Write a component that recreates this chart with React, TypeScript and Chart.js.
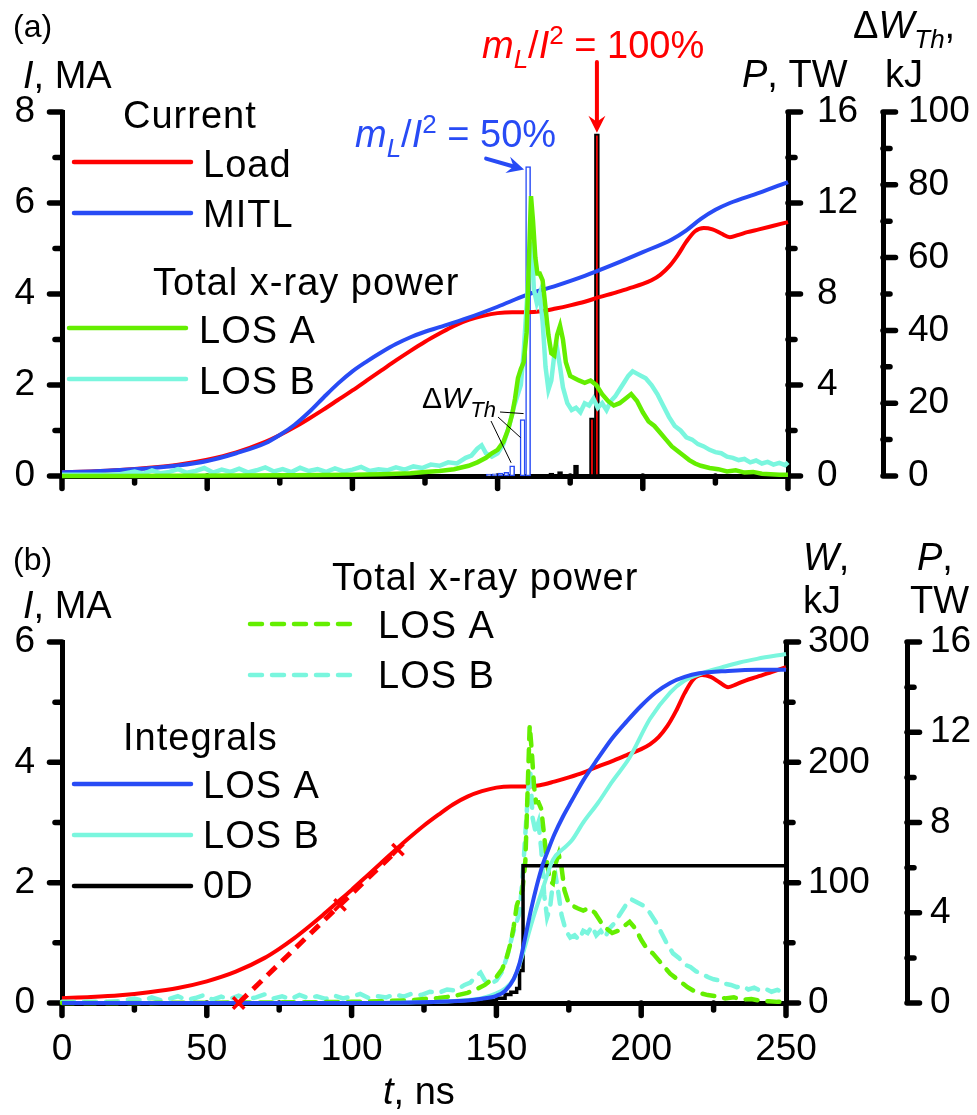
import React, { useEffect, useRef } from 'react';
import { Chart, registerables } from 'chart.js';
Chart.register(...registerables);

const FONT = '"Liberation Sans", Arial, Helvetica, sans-serif';
const RED = 'rgb(255,0,0)';
const BLUE = 'rgb(40,75,245)';
const GREEN = 'rgb(100,238,0)';
const CYAN = 'rgb(122,246,222)';

// ---- Current (MA) ----
const loadT = [0, 10, 20, 30, 40, 50, 60, 70, 75, 80, 85, 90, 95, 100, 105, 110, 115, 120, 125, 130, 135, 140, 145, 150, 155, 160, 165, 170, 175, 180, 185, 190, 195, 200, 203, 206, 209, 212, 215, 218, 221, 224, 227, 230, 233, 236, 240, 245, 250];
const loadI = [0.08, 0.1, 0.13, 0.18, 0.25, 0.36, 0.52, 0.75, 0.9, 1.07, 1.26, 1.46, 1.67, 1.88, 2.1, 2.32, 2.54, 2.75, 2.95, 3.13, 3.3, 3.43, 3.52, 3.58, 3.6, 3.6, 3.62, 3.68, 3.75, 3.83, 3.93, 4.02, 4.12, 4.22, 4.3, 4.42, 4.6, 4.85, 5.15, 5.38, 5.45, 5.42, 5.33, 5.25, 5.3, 5.36, 5.42, 5.5, 5.58];
const mitlT = [0, 10, 20, 30, 40, 50, 60, 70, 75, 80, 85, 90, 95, 100, 105, 110, 115, 120, 125, 130, 140, 150, 160, 170, 180, 190, 200, 210, 215, 220, 225, 230, 240, 250];
const mitlI = [0.08, 0.1, 0.13, 0.17, 0.23, 0.33, 0.5, 0.72, 0.9, 1.12, 1.4, 1.72, 2.03, 2.3, 2.52, 2.72, 2.9, 3.05, 3.17, 3.27, 3.48, 3.72, 3.98, 4.18, 4.4, 4.65, 4.92, 5.2, 5.4, 5.65, 5.85, 6.0, 6.22, 6.46];

// ---- Total x-ray power (TW) ----
const losAT = [0, 20, 40, 60, 80, 100, 110, 120, 125, 130, 135, 140, 143, 146, 148, 150, 152, 153.5, 155, 156, 157, 158, 159, 160, 160.8, 161.5, 162.2, 163, 163.7, 164.5, 165.5, 166.5, 167.5, 168.5, 169.5, 170.5, 171.5, 172.5, 173.5, 175, 176.5, 178, 180, 182, 184, 186, 188, 190, 192, 194, 196, 198, 200, 202, 204, 206, 208, 210, 212, 214, 216, 218, 220, 223, 226, 229, 232, 235, 238, 241, 244, 247, 250];
const losAP = [0, 0, 0.01, 0.02, 0.03, 0.05, 0.08, 0.12, 0.18, 0.22, 0.3, 0.45, 0.6, 0.8, 1.0, 1.15, 1.5, 2.0, 2.7, 3.4, 4.3, 4.7, 5.0, 6.3, 9.5, 12.3, 11.2, 9.6, 8.9, 8.9, 8.6, 7.4, 6.2, 5.4, 5.3, 6.2, 6.6, 6.0, 5.0, 4.4, 4.3, 4.2, 4.1, 4.2, 4.0, 3.6, 3.3, 3.1, 3.2, 3.4, 3.6, 3.3, 2.8, 2.4, 2.2, 1.9, 1.6, 1.3, 1.1, 0.9, 0.7, 0.55, 0.45, 0.35, 0.3, 0.2, 0.25, 0.15, 0.18, 0.1, 0.08, 0.05, 0.05];
const losBT = [0, 5, 10, 15, 20, 25, 28, 31, 34, 37, 40, 43, 46, 49, 52, 55, 58, 61, 64, 67, 70, 73, 76, 79, 82, 85, 88, 91, 94, 97, 100, 103, 106, 109, 112, 115, 118, 121, 124, 127, 130, 133, 136, 139, 141, 143, 144.5, 146, 148, 150, 152, 154, 155.5, 157, 158, 159, 160, 161, 161.7, 162.5, 163.5, 164.5, 165.5, 166.5, 167.5, 168.5, 169.5, 170.5, 171.5, 172.5, 174, 175.5, 177, 178.5, 180, 181.5, 183, 184.5, 186, 187.5, 189, 190.5, 192, 193.5, 195, 196.5, 198, 199.5, 201, 203, 205, 207, 209, 211, 213, 215, 217, 219, 221, 223, 225, 227, 229, 231, 233, 235, 237, 239, 241, 243, 245, 247, 249, 250];
const losBP = [0.05, 0.05, 0.06, 0.05, 0.08, 0.2, 0.1, 0.25, 0.12, 0.18, 0.3, 0.14, 0.22, 0.35, 0.15, 0.28, 0.18, 0.32, 0.16, 0.25, 0.38, 0.2, 0.3, 0.17, 0.36, 0.22, 0.3, 0.18, 0.33, 0.2, 0.28, 0.4, 0.22, 0.3, 0.25, 0.38, 0.28, 0.42, 0.35, 0.5, 0.45, 0.6, 0.55, 0.8, 0.9, 1.2, 1.35, 1.0, 0.85, 1.0, 1.4, 2.2, 3.0, 3.6, 4.0, 5.5, 7.5, 9.5, 10.3, 8.2, 7.6, 8.0, 6.8, 4.8, 3.8, 4.2, 5.3, 5.6, 4.8, 3.9, 3.2, 2.9, 3.0, 2.8, 3.2, 3.1, 3.4, 3.0, 3.2, 2.9, 3.3, 3.5, 3.8, 4.1, 4.4, 4.6, 4.5, 4.4, 4.3, 4.0, 3.6, 3.1, 2.6, 2.2, 2.0, 1.7, 1.6, 1.4, 1.3, 1.15, 1.05, 1.0, 0.85, 0.8, 0.7, 0.75, 0.6, 0.68, 0.55, 0.62, 0.5, 0.58, 0.48, 0.6];

// ---- ΔW_Th bars (kJ) ----
const dwBlueT = [147, 149, 151, 153, 155, 158.6, 160.5];
const dwBlueKJ = [0.5, 0.6, 0.8, 1.0, 2.8, 15.5, 85];
const dwBlackT = [168.5, 171.5, 177, 182.5, 184.2];
const dwBlackKJ = [0.8, 1.2, 3.0, 16, 94];

// ---- Integrals (kJ) ----
const intAT = [0, 100, 120, 130, 140, 145, 150, 153, 156, 158, 160, 162, 164, 166, 168, 170, 173, 176, 180, 185, 190, 195, 200, 205, 210, 215, 220, 230, 240, 250];
const intAW = [0, 0, 0.5, 1, 2, 3.5, 6, 10, 20, 33, 55, 78, 98, 115, 128, 140, 155, 168, 185, 203, 220, 234, 247, 258, 266, 271, 274, 276, 277, 277];
const intBT = [0, 100, 120, 130, 140, 145, 150, 153, 156, 158, 160, 162.5, 166, 169.5, 173, 176, 180, 185, 190, 196, 203, 210, 215, 221, 228, 234, 240, 250];
const intBW = [0, 0, 0.5, 1, 2.5, 4, 8, 12, 20, 32, 48, 69, 95, 119, 128, 135, 150, 166, 184, 204, 236, 258, 268, 274, 279, 283, 286, 290];
const zeroDT = [0, 130, 140, 145, 150, 153, 155, 157, 158, 159.2, 250];
const zeroDW = [0, 0.5, 1, 2, 4, 7, 9, 12, 27, 114, 114];

// ---- tangent line on load current ----
const tanT = [61, 96, 116];
const tanI = [0, 1.63, 2.55];

// ---- tick values ----
const xMajor = [0, 50, 100, 150, 200, 250];
const xMinor = [25, 75, 125, 175, 225];
const iMajorA = [0, 2, 4, 6, 8];
const iMinorA = [1, 3, 5, 7];
const pMajor = [0, 4, 8, 12, 16];
const pMinor = [2, 6, 10, 14];
const dwMajor = [0, 20, 40, 60, 80, 100];
const dwMinor = [10, 30, 50, 70, 90];
const iMajorB = [0, 2, 4, 6];
const iMinorB = [1, 3, 5];
const wMajor = [0, 100, 200, 300];
const wMinor = [50, 150, 250];

const pts = (xs: number[], ys: number[]) => xs.map((x, i) => ({ x, y: ys[i] }));

type Seg = { t: string; it?: boolean; size?: number; dy?: number };
function rich(ctx: CanvasRenderingContext2D, x: number, y: number, segs: Seg[], color = '#000', size = 38, spacing = 1) {
  let cx = x;
  ctx.save();
  ctx.fillStyle = color;
  ctx.textBaseline = 'alphabetic';
  ctx.textAlign = 'left';
  for (const s of segs) {
    const sz = s.size ?? size;
    ctx.font = `${s.it ? 'italic ' : ''}${sz}px ${FONT}`;
    (ctx as any).letterSpacing = `${spacing}px`;
    ctx.fillText(s.t, cx, y + (s.dy ?? 0));
    cx += ctx.measureText(s.t).width;
  }
  ctx.restore();
}
function legLine(ctx: CanvasRenderingContext2D, x1: number, x2: number, y: number, color: string, dash?: number[]) {
  ctx.save();
  ctx.strokeStyle = color;
  ctx.lineWidth = 4.5;
  ctx.lineCap = 'round';
  if (dash) ctx.setLineDash(dash);
  ctx.beginPath();
  ctx.moveTo(x1, y);
  ctx.lineTo(x2, y);
  ctx.stroke();
  ctx.restore();
}
function arrow(ctx: CanvasRenderingContext2D, x1: number, y1: number, x2: number, y2: number, color: string) {
  const a = Math.atan2(y2 - y1, x2 - x1);
  const hl = 17, hw = 8.5, notch = 6;
  const c = Math.cos(a), s = Math.sin(a);
  const bx = x2 - hl * c, by = y2 - hl * s;
  ctx.save();
  ctx.strokeStyle = color;
  ctx.fillStyle = color;
  ctx.lineWidth = 4;
  ctx.lineCap = 'round';
  ctx.beginPath();
  ctx.moveTo(x1, y1);
  ctx.lineTo(x2 - (hl - notch) * c, y2 - (hl - notch) * s);
  ctx.stroke();
  ctx.beginPath();
  ctx.moveTo(x2, y2);
  ctx.lineTo(bx - hw * s, by + hw * c);
  ctx.lineTo(x2 - (hl - notch) * c, y2 - (hl - notch) * s);
  ctx.lineTo(bx + hw * s, by - hw * c);
  ctx.closePath();
  ctx.fill();
  ctx.restore();
}

type TickSpec = { id: string; major: number[]; minor: number[] };
const tickPlugin = (specs: TickSpec[]) => ({
  id: 'tickMarks',
  beforeDatasetsDraw(chart: any) {
    const ctx = chart.ctx as CanvasRenderingContext2D;
    ctx.save();
    ctx.strokeStyle = '#000';
    ctx.lineWidth = 5.5;
    ctx.lineCap = 'round';
    for (const sp of specs) {
      const s = chart.scales[sp.id];
      const groups: [number[], number][] = [[sp.major, 12.5], [sp.minor, 7]];
      for (const [vals, len] of groups) {
        for (const v of vals) {
          const p = s.getPixelForValue(v);
          ctx.beginPath();
          if (s.isHorizontal()) {
            ctx.moveTo(p, s.top);
            ctx.lineTo(p, s.top + len);
          } else if (s.position === 'left') {
            ctx.moveTo(s.right, p);
            ctx.lineTo(s.right - len, p);
          } else {
            ctx.moveTo(s.left, p);
            ctx.lineTo(s.left + len, p);
          }
          ctx.stroke();
        }
      }
    }
    ctx.restore();
  },
});

const axisCommon = {
  grid: { display: false, drawTicks: false },
  border: { display: true, width: 5, color: '#000' },
};
const tickFont = { family: FONT, size: 37 };

function makeChartA(canvas: HTMLCanvasElement) {
  const textPlugin = {
    id: 'textA',
    afterDraw(chart: any) {
      const ctx = chart.ctx as CanvasRenderingContext2D;
      const sx = chart.scales.x, sw = chart.scales.yW;
      rich(ctx, 13, 37, [{ t: '(a)' }], '#000', 32, 0);
      rich(ctx, 23, 88, [{ t: 'I', it: true }, { t: ', MA' }], '#000', 38, 0);
      rich(ctx, 742, 87, [{ t: 'P', it: true }, { t: ', TW' }], '#000', 38, 0);
      rich(ctx, 853, 38, [{ t: 'Δ' }, { t: 'W', it: true }, { t: 'Th', it: true, size: 26, dy: 10 }, { t: ',' }], '#000', 38, 0);
      rich(ctx, 885, 87, [{ t: 'kJ' }], '#000', 38, 0);
      rich(ctx, 123, 128, [{ t: 'Current' }]);
      legLine(ctx, 74, 191, 162, RED);
      rich(ctx, 203, 177, [{ t: 'Load' }]);
      legLine(ctx, 74, 191, 213, BLUE);
      rich(ctx, 203, 227, [{ t: 'MITL' }]);
      rich(ctx, 153, 295, [{ t: 'Total x-ray power' }]);
      legLine(ctx, 69, 186, 328, GREEN);
      rich(ctx, 199, 343, [{ t: 'LOS A' }]);
      legLine(ctx, 69, 186, 379, CYAN);
      rich(ctx, 199, 394, [{ t: 'LOS B' }]);
      const mlSegs = (pct: string): Seg[] => [
        { t: 'm', it: true }, { t: 'L', it: true, size: 26, dy: 10 }, { t: '/' }, { t: 'I', it: true },
        { t: '2', size: 26, dy: -14 }, { t: ' = ' + pct },
      ];
      rich(ctx, 355, 147, mlSegs('50%'), BLUE, 38, 0);
      rich(ctx, 482, 58, mlSegs('100%'), RED, 38, 0);
      // arrows to the bars
      const nb = dwBlueT.length - 1;
      const bx = sx.getPixelForValue(dwBlueT[nb]);
      const by = sw.getPixelForValue(dwBlueKJ[nb]);
      arrow(ctx, bx - 42, by - 8, bx - 4, by + 3, BLUE);
      const nk = dwBlackT.length - 1;
      const kx = sx.getPixelForValue(dwBlackT[nk]);
      const ky = sw.getPixelForValue(dwBlackKJ[nk]);
      arrow(ctx, kx, 62, kx, ky - 1, RED);
      // ΔW_Th annotation with leader lines
      rich(ctx, 422, 408, [{ t: 'Δ' }, { t: 'W', it: true }, { t: 'Th', it: true, size: 22, dy: 9 }], '#000', 30, 0);
      ctx.save();
      ctx.strokeStyle = '#000';
      ctx.lineWidth = 1;
      const b1x = sx.getPixelForValue(dwBlueT[5]), b1y = sw.getPixelForValue(dwBlueKJ[5]);
      const b0x = sx.getPixelForValue(dwBlueT[4]), b0y = sw.getPixelForValue(dwBlueKJ[4]);
      ctx.beginPath();
      ctx.moveTo(500, 412); ctx.lineTo(b1x + 1, b1y - 6);
      ctx.moveTo(498, 417); ctx.lineTo(b1x - 2, b1y + 18);
      ctx.moveTo(491, 421); ctx.lineTo(b0x - 1, b0y - 3);
      ctx.stroke();
      ctx.restore();
    },
  };
  return new Chart(canvas, {
    type: 'line',
    data: {
      datasets: [
        { label: 'LOS A', data: pts(losAT, losAP), yAxisID: 'yP', borderColor: GREEN, borderWidth: 4.5 },
        { label: 'LOS B', data: pts(losBT, losBP), yAxisID: 'yP', borderColor: CYAN, borderWidth: 4.5 },
        { label: 'MITL', data: pts(mitlT, mitlI), yAxisID: 'yI', borderColor: BLUE, borderWidth: 4, cubicInterpolationMode: 'monotone' },
        { label: 'Load', data: pts(loadT, loadI), yAxisID: 'yI', borderColor: RED, borderWidth: 4, cubicInterpolationMode: 'monotone' },
        { type: 'bar', label: 'dW blue', data: pts(dwBlueT, dwBlueKJ), yAxisID: 'yW', backgroundColor: '#fff', borderColor: BLUE, borderWidth: 1.5, barThickness: 5, grouped: false, borderSkipped: false },
        { type: 'bar', label: 'dW black', data: pts(dwBlackT, dwBlackKJ), yAxisID: 'yW', backgroundColor: dwBlackKJ.map((v) => (v > 10 ? RED : '#000')), borderColor: '#000', borderWidth: 2, barThickness: 5, grouped: false, borderSkipped: false },
      ] as any,
    },
    options: {
      animation: false,
      responsive: false,
      devicePixelRatio: 1,
      parsing: true,
      layout: { padding: { top: 112, left: 0, right: 0, bottom: 0 } },
      elements: { point: { radius: 0 }, line: { tension: 0 } },
      datasets: { line: { clip: false as any, pointRadius: 0 } as any, bar: { clip: false as any } as any },
      plugins: { legend: { display: false }, tooltip: { enabled: false } },
      scales: {
        x: { type: 'linear', min: 0, max: 250, offset: false, ...axisCommon, ticks: { display: false }, afterFit: (s: any) => { s.height = 54; } },
        yI: { type: 'linear', position: 'left', min: 0, max: 8, ...axisCommon, ticks: { stepSize: 2, padding: 27, font: tickFont, color: '#000', autoSkip: false }, afterFit: (s: any) => { s.width = 62; } },
        yP: { type: 'linear', position: 'right', min: 0, max: 16, ...axisCommon, ticks: { stepSize: 4, padding: 29, font: tickFont, color: '#000', autoSkip: false }, afterFit: (s: any) => { s.width = 95; } },
        yW: { type: 'linear', position: 'right', min: 0, max: 100, ...axisCommon, ticks: { stepSize: 20, padding: 25, font: tickFont, color: '#000', autoSkip: false }, afterFit: (s: any) => { s.width = 94; } },
      } as any,
    },
    plugins: [
      tickPlugin([
        { id: 'x', major: xMajor, minor: xMinor },
        { id: 'yI', major: iMajorA, minor: iMinorA },
        { id: 'yP', major: pMajor, minor: pMinor },
        { id: 'yW', major: dwMajor, minor: dwMinor },
      ]),
      textPlugin,
    ],
  });
}

const OFF_B = 530;
function makeChartB(canvas: HTMLCanvasElement) {
  const o = OFF_B;
  const textPlugin = {
    id: 'textB',
    afterDraw(chart: any) {
      const ctx = chart.ctx as CanvasRenderingContext2D;
      rich(ctx, 13, 570 - o, [{ t: '(b)' }], '#000', 32, 0);
      rich(ctx, 23, 618 - o, [{ t: 'I', it: true }, { t: ', MA' }], '#000', 38, 0);
      rich(ctx, 803, 570 - o, [{ t: 'W', it: true }, { t: ',' }], '#000', 38, 0);
      rich(ctx, 803, 613 - o, [{ t: 'kJ' }], '#000', 38, 0);
      rich(ctx, 917, 570 - o, [{ t: 'P', it: true }, { t: ',' }], '#000', 38, 0);
      rich(ctx, 910, 613 - o, [{ t: 'TW' }], '#000', 38, 0);
      rich(ctx, 332, 590 - o, [{ t: 'Total x-ray power' }]);
      legLine(ctx, 250, 358, 624 - o, GREEN, [12, 10]);
      rich(ctx, 378, 638 - o, [{ t: 'LOS A' }]);
      legLine(ctx, 250, 358, 675 - o, CYAN, [12, 10]);
      rich(ctx, 378, 688 - o, [{ t: 'LOS B' }]);
      rich(ctx, 123, 750 - o, [{ t: 'Integrals' }]);
      legLine(ctx, 74, 191, 784 - o, BLUE);
      rich(ctx, 203, 798 - o, [{ t: 'LOS A' }]);
      legLine(ctx, 74, 191, 835 - o, CYAN);
      rich(ctx, 203, 848 - o, [{ t: 'LOS B' }]);
      legLine(ctx, 74, 191, 886 - o, '#000');
      rich(ctx, 203, 898 - o, [{ t: '0D' }]);
      rich(ctx, 383, 1104 - o, [{ t: 't', it: true }, { t: ', ns' }], '#000', 38, 0);
    },
  };
  return new Chart(canvas, {
    type: 'line',
    data: {
      datasets: [
        { label: 'tangent', data: pts(tanT, tanI), yAxisID: 'yI', borderColor: RED, borderWidth: 5, borderDash: [12, 8], pointRadius: 8, pointStyle: 'crossRot', pointBorderColor: RED, pointBorderWidth: 3.5 },
        { label: 'Int LOS A', data: pts(intAT, intAW), yAxisID: 'yW', borderColor: BLUE, borderWidth: 4, cubicInterpolationMode: 'monotone' },
        { label: 'Int LOS B', data: pts(intBT, intBW), yAxisID: 'yW', borderColor: CYAN, borderWidth: 4, cubicInterpolationMode: 'monotone' },
        { label: '0D', data: pts(zeroDT, zeroDW), yAxisID: 'yW', borderColor: '#000', borderWidth: 3.5, stepped: 'before' },
        { label: 'P LOS A', data: pts(losAT, losAP), yAxisID: 'yP', borderColor: GREEN, borderWidth: 4.5, borderDash: [12, 10], borderCapStyle: 'round' },
        { label: 'P LOS B', data: pts(losBT, losBP), yAxisID: 'yP', borderColor: CYAN, borderWidth: 4.5, borderDash: [12, 10], borderCapStyle: 'round' },
        { label: 'Load', data: pts(loadT, loadI), yAxisID: 'yI', borderColor: RED, borderWidth: 4, cubicInterpolationMode: 'monotone' },
      ] as any,
    },
    options: {
      animation: false,
      responsive: false,
      devicePixelRatio: 1,
      layout: { padding: { top: 112, left: 0, right: 0, bottom: 0 } },
      elements: { point: { radius: 0 }, line: { tension: 0 } },
      datasets: { line: { clip: false as any } as any },
      plugins: { legend: { display: false }, tooltip: { enabled: false } },
      scales: {
        x: { type: 'linear', min: 0, max: 250, offset: false, ...axisCommon, ticks: { stepSize: 50, padding: 25, font: tickFont, color: '#000', autoSkip: false, maxRotation: 0 }, afterFit: (s: any) => { s.height = 112; } },
        yI: { type: 'linear', position: 'left', min: 0, max: 6, ...axisCommon, ticks: { stepSize: 2, padding: 27, font: tickFont, color: '#000', autoSkip: false }, afterFit: (s: any) => { s.width = 62; } },
        yW: { type: 'linear', position: 'right', min: 0, max: 300, ...axisCommon, ticks: { stepSize: 100, padding: 22, font: tickFont, color: '#000', autoSkip: false }, afterFit: (s: any) => { s.width = 121; } },
        yP: { type: 'linear', position: 'right', min: 0, max: 16, ...axisCommon, ticks: { stepSize: 4, padding: 23, font: tickFont, color: '#000', autoSkip: false }, afterFit: (s: any) => { s.width = 70; } },
      } as any,
    },
    plugins: [
      tickPlugin([
        { id: 'x', major: xMajor, minor: xMinor },
        { id: 'yI', major: iMajorB, minor: iMinorB },
        { id: 'yW', major: wMajor, minor: wMinor },
        { id: 'yP', major: pMajor, minor: pMinor },
      ]),
      textPlugin,
    ],
  });
}

function ChartCanvas({ top, height, make }: { top: number; height: number; make: (c: HTMLCanvasElement) => Chart }) {
  const ref = useRef<HTMLCanvasElement>(null);
  useEffect(() => {
    const chart = make(ref.current!);
    return () => chart.destroy();
  }, [make]);
  return (
    <canvas
      ref={ref}
      width={977}
      height={height}
      style={{ position: 'absolute', left: 0, top, width: 977, height, display: 'block' }}
    />
  );
}

export default function App() {
  return (
    <div style={{ position: 'absolute', left: 0, top: 0, width: 977, height: 1115, background: '#fff', overflow: 'hidden' }}>
      <ChartCanvas top={0} height={OFF_B} make={makeChartA} />
      <ChartCanvas top={OFF_B} height={1115 - OFF_B} make={makeChartB} />
    </div>
  );
}
